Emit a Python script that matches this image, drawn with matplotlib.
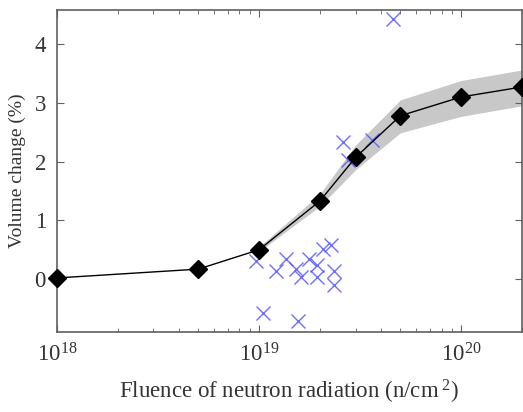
import numpy as np
import matplotlib.pyplot as plt

plt.rcParams['font.family'] = ['Liberation Serif', 'DejaVu Serif']
plt.rcParams['mathtext.fontset'] = 'custom'
plt.rcParams['mathtext.rm'] = 'Liberation Serif'
plt.rcParams['mathtext.it'] = 'Liberation Serif:italic'

# model curve
fluence = [1e18, 5e18, 1e19, 2e19, 3e19, 5e19, 1e20, 2e20]
volume = [0.02, 0.17, 0.50, 1.33, 2.07, 2.78, 3.10, 3.27]

# uncertainty band
band_x = [1e19, 2e19, 3e19, 5e19, 1e20, 2e20]
band_lo = [0.47, 1.24, 1.86, 2.49, 2.77, 2.95]
band_hi = [0.55, 1.45, 2.28, 3.05, 3.38, 3.56]

# experimental points
exp_x = [9.7e18, 1.05e19, 1.21e19, 1.36e19, 1.52e19, 1.61e19, 1.56e19, 1.77e19,
         1.94e19, 1.94e19, 2.07e19, 2.27e19, 2.35e19, 2.35e19, 2.6e19, 2.76e19,
         3.63e19, 4.6e19]
exp_y = [0.30, -0.58, 0.14, 0.35, 0.18, 0.03, -0.72, 0.35,
         0.24, 0.04, 0.51, 0.58, 0.14, -0.10, 2.34, 2.03,
         2.37, 4.43]

fig = plt.figure(figsize=(5.23, 4.12), dpi=100)
ax = fig.add_axes([57/523, 80/412, 465/523, 322/412])

ax.fill_between(band_x, band_lo, band_hi, color='#c8c8c8', lw=0, zorder=1)
ax.plot(exp_x, exp_y, 'x', color='#5555ff', ms=10, mew=1.0, alpha=0.85, zorder=2)
ax.plot(fluence, volume, '-', color='black', lw=1.0, marker='D', ms=9,
        mfc='black', mec='black', zorder=3, clip_on=False)

ax.set_xscale('log')
ax.set_xlim(1e18, 2e20)
ax.set_ylim(-0.9, 4.58)
ax.set_yticks([0, 1, 2, 3, 4])

txt = '#333333'
for s in ax.spines.values():
    s.set_color('#606060')
    s.set_linewidth(1.2)
ax.tick_params(which='both', direction='in', top=True, right=True,
               colors='#606060', labelcolor=txt, labelsize=16.5)
ax.tick_params(which='major', length=5, pad=8)
ax.tick_params(which='minor', length=3)

ax.set_xlabel(r'Fluence of neutron radiation (n/cm$^{\ 2}$)', fontsize=16.5, color=txt, labelpad=8)
ax.set_ylabel('Volume change (%)', fontsize=14, color=txt, labelpad=6)

fig.savefig('out.png', dpi=100)
